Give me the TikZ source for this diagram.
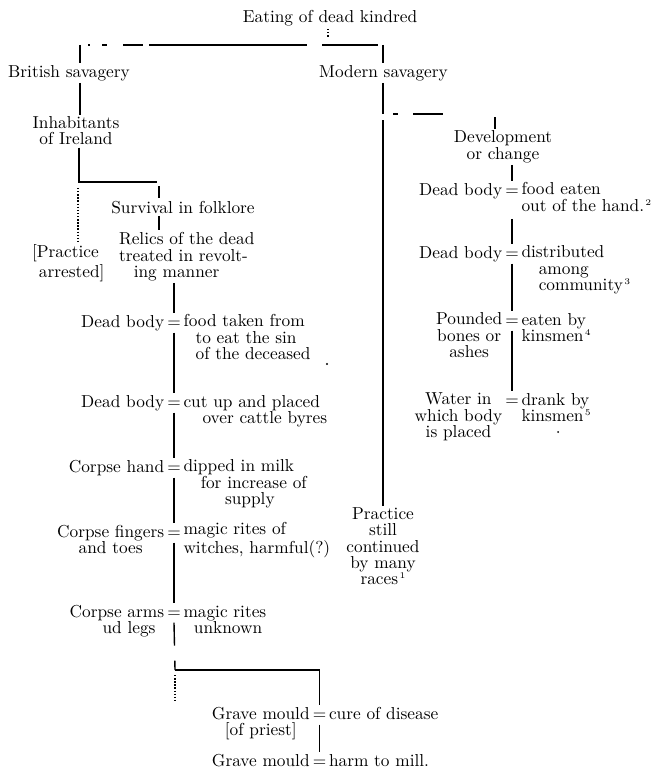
\documentclass[tikz,border=0pt]{standalone}
\usepackage{amsmath,amssymb}
\usepackage{tikz}
\usetikzlibrary{positioning, calc}

% small raised footnote marks, as printed
\newcommand{\fnm}[1]{\kern0.8pt\raisebox{3.2pt}{\tiny #1}}

\begin{document}
\begin{tikzpicture}[x=0.578pt, y=-0.578pt, line width=0.8pt, font=\fontsize{10}{9.25}\selectfont]

    % Custom styles for chart texts and the equals joints
    % (a block of n lines sits on its last base line: n-1 lines of 16 below the first)
    \tikzset{
        txt/.style={inner sep=1pt, align=center},
        ltxt/.style={inner ysep=1pt, inner xsep=0.8pt, align=left},
        eqn/.style={inner sep=0pt, text height=7.5pt, text depth=2.8pt}
    }
    \useasboundingbox (0,0) rectangle (651,784);

    % ==========================================
    % Root and the two main branches
    % ==========================================
    \node[txt, anchor=base] (root) at (330,23) {Eating of dead kindred};
    \coordinate (rootdot) at (328,38);
    \coordinate (barL) at (80,45);
    \coordinate (barR) at (383,45);
    \node[txt, anchor=base] (brit) at (69,77) {British savagery};
    \node[txt, anchor=base] (modern) at (383.5,77) {Modern savagery};

    \draw[densely dotted] (root.south -| rootdot) -- (rootdot);
    % broken bar, as printed
    \draw[dash pattern=on 1.16pt off 6.94pt on 2.89pt off 9.25pt on 11.56pt off 3.47pt on 91.3pt off 8.67pt on 32.4pt off 7.51pt, dash phase=170.5pt] (barL) -- (barR);
    \draw (barL) -- (brit.north -| barL);
    \draw (barR) -- (modern.north -| barR);

    % ==========================================
    % British savagery
    % ==========================================
    \node[txt, anchor=base] (ireland) at (76,145) {Inhabitants\\of Ireland};
    \draw (brit.south -| barL) -- (ireland.north -| barL);

    \coordinate (irlbar) at (79,182);
    \coordinate (survbar) at (157,182);
    \coordinate (survx) at (159,186);
    \draw (ireland.south -| irlbar) -- (irlbar) -- (survbar);

    \node[txt, anchor=base] (survival) at (183,213) {Survival in folklore};
    \draw (survx) -- (survival.north -| survx);

    \node[ltxt, anchor=base west] (relics) at (117,277) {Relics of the dead\\treated in revolt-\\\hspace*{8.5pt}ing manner};
    \draw (survival.south -| survx) -- (relics.north -| survx);

    \node[ltxt, anchor=base west] (arrested) at (30,277) {[Practice\\\hspace*{4pt}arrested]};
    \draw[densely dotted] ($(irlbar)+(-1,6)$) -- (arrested.north -| 78,0);

    % Left column of equations
    \node[eqn, anchor=base] (eqA) at (174,327) {$=$};
    \node[txt, anchor=base east] (bodyA) at (eqA.base west) {Dead body};
    \node[ltxt, anchor=base west] (foodA) at ($(eqA.base east)+(0,32)$) {food taken from\\\hspace*{7pt}to eat the sin\\\hspace*{7pt}of the deceased};
    \draw (relics.south -| eqA) -- (eqA.north);

    \node[eqn, anchor=base] (eqB) at (174,407) {$=$};
    \node[txt, anchor=base east] (bodyB) at (eqB.base west) {Dead body};
    \node[ltxt, anchor=base west] (cutB) at ($(eqB.base east)+(0,16)$) {cut up and placed\\\hspace*{11pt}over cattle byres};
    \draw (eqA.south) -- (eqB.north);

    \node[eqn, anchor=base] (eqC) at (174,472) {$=$};
    \node[txt, anchor=base east] (handC) at (eqC.base west) {Corpse hand};
    \node[ltxt, anchor=base west] (milkC) at ($(eqC.base east)+(0,32)$) {dipped in milk\\\hspace*{10pt}for increase of\\\hspace*{24pt}supply};
    \draw (eqB.south) -- (eqC.north);

    \node[eqn, anchor=base] (eqD) at (174,537) {$=$};
    \node[txt, anchor=base east] (fingD) at ($(eqD.base west)+(0,16)$) {Corpse fingers\\and toes};
    \node[ltxt, anchor=base west] (ritesD) at ($(eqD.base east)+(0,16)$) {magic rites of\\witches, harmful(?)};
    \draw (eqC.south) -- (eqD.north);

    \node[eqn, anchor=base] (eqE) at (174,617) {$=$};
    \node[txt, anchor=base east] (armsE) at ($(eqE.base west)+(0,16)$) {Corpse arms\\\hspace*{14pt}ud legs};
    \node[ltxt, anchor=base west] (ritesE) at ($(eqE.base east)+(0,16)$) {magic rites\\\hspace*{6pt}unknown};
    \draw (eqD.south) -- (eqE.north);

    % Grave mould branch
    \coordinate (gbarL) at (175,670);
    \coordinate (gbarR) at (319.5,670);
    \draw[dash pattern=on 13.3pt off 8.67pt on 5.78pt off 1pt] (eqE.south) -- (gbarL);
    \node[eqn, anchor=base] (eqG) at (319.5,719) {$=$};
    \node[txt, anchor=base east] (moulG) at ($(eqG.base west)+(0,16)$) {Grave mould\\{}[of priest]};
    \node[ltxt, anchor=base west] (cureG) at (eqG.base east) {cure of disease};
    \draw (gbarL) -- (gbarR) -- (eqG.north);
    \draw[densely dotted] ($(gbarL)+(0,5)$) -- ++(0,28);

    \node[eqn, anchor=base] (eqH) at (319.5,766) {$=$};
    \node[txt, anchor=base east] (moulH) at (eqH.base west) {Grave mould};
    \node[ltxt, anchor=base west] (millH) at (eqH.base east) {harm to mill.};
    \draw (eqG.south) -- (eqH.north);

    % ==========================================
    % Modern savagery
    % ==========================================
    \coordinate (mbarL) at (383,114);
    \coordinate (mbarR) at (495,114);
    \draw (modern.south -| barR) -- (mbarL);
    \draw[dash pattern=on 2.89pt off 8.67pt on 17.34pt off 35.84pt, dash phase=58.96pt] (mbarL) -- (mbarR);

    \node[txt, anchor=base] (practice) at (383,584) {Practice\\still\\continued\\by many\\races\fnm{1}};
    \draw ($(mbarL)+(0,6)$) -- (practice.north -| mbarL);

    \node[txt, anchor=base] (dev) at (503,159) {Development\\or change};
    \draw ($(mbarR)+(0,3)$) -- (dev.north -| mbarR);

    % Right column of equations
    \node[eqn, anchor=base] (eqP) at (512,195) {$=$};
    \node[txt, anchor=base east] (bodyP) at (eqP.base west) {Dead body};
    \node[ltxt, anchor=base west] (foodP) at ($(eqP.base east)+(0,16)$) {food eaten\\out of the hand.\fnm{2}};
    \draw (dev.south -| eqP) -- (eqP.north);

    \node[eqn, anchor=base] (eqQ) at (512,258) {$=$};
    \node[txt, anchor=base east] (bodyQ) at (eqQ.base west) {Dead body};
    \node[ltxt, anchor=base west] (distQ) at ($(eqQ.base east)+(0,32)$) {distributed\\\hspace*{10pt}among\\\hspace*{10pt}community\fnm{3}};
    \draw[shorten <=3pt] (foodP.south -| eqP) -- (eqQ.north);

    \node[eqn, anchor=base] (eqR) at (512,325) {$=$};
    \node[txt, anchor=base east] (pounR) at ($(eqR.base west)+(0,32)$) {Pounded\\bones or\\ashes};
    \node[ltxt, anchor=base west] (eatR) at ($(eqR.base east)+(0,16)$) {eaten by\\kinsmen\fnm{4}};
    \draw (eqQ.south) -- (eqR.north);

    \node[eqn, anchor=base] (eqS) at (512,405) {$=$};
    \node[txt, anchor=base east] (watS) at ($(eqS.base west)+(0,32)$) {Water in\\which body\\is placed};
    \node[ltxt, anchor=base west] (drankS) at ($(eqS.base east)+(0,16)$) {drank by\\kinsmen\fnm{5}};
    \draw (eqR.south) -- (eqS.north);

    % specks of the print
    \fill (327,364) circle (1.2);
    \fill (558,432) circle (1);

\end{tikzpicture}
\end{document}
